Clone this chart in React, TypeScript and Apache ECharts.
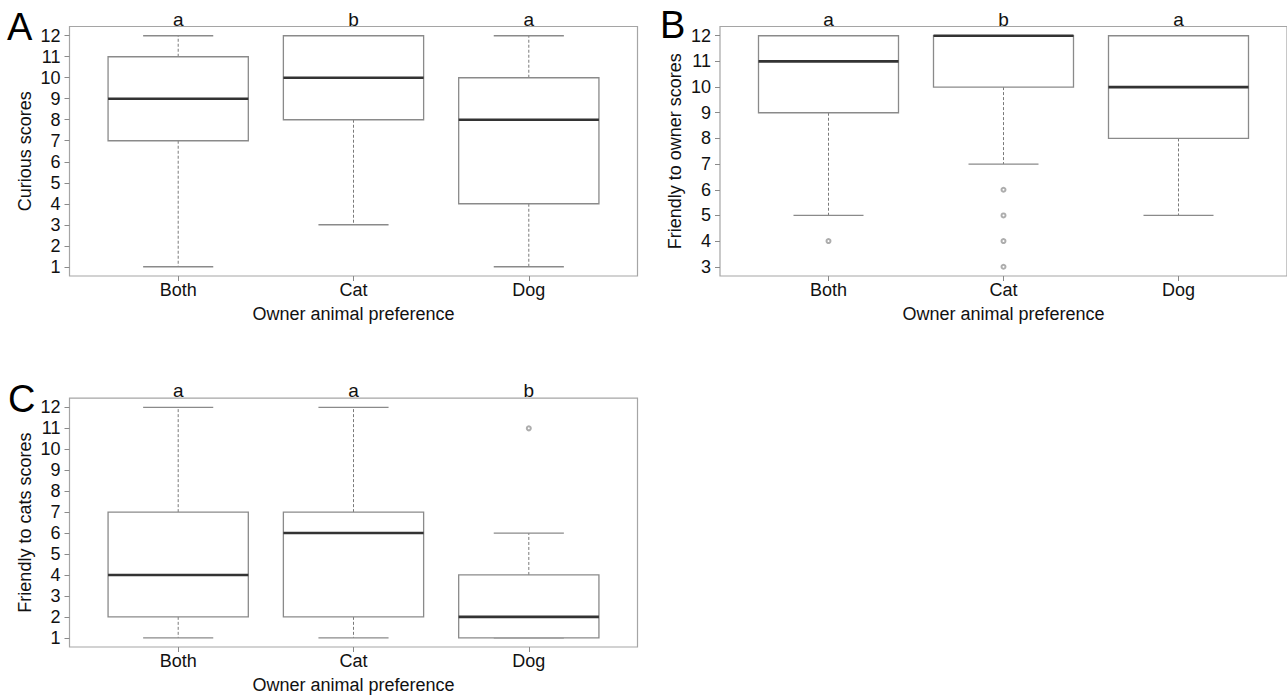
import React, { useEffect, useRef } from "react";
import * as echarts from "echarts";

const categories = ["Both", "Cat", "Dog"];

// [min whisker, Q1, median, Q3, max whisker]
const curiousStats = [
  [1, 7, 9, 11, 12],
  [3, 8, 10, 12, 12],
  [1, 4, 8, 10, 12],
];
const curiousOutliers: number[][] = [];
const curiousLetters = ["a", "b", "a"];

const ownerStats = [
  [5, 9, 11, 12, 12],
  [7, 10, 12, 12, 12],
  [5, 8, 10, 12, 12],
];
const ownerOutliers = [
  [1, 4],
  [2, 6],
  [2, 5],
  [2, 4],
  [2, 3],
];
const ownerLetters = ["a", "b", "a"];

const catsStats = [
  [1, 2, 4, 7, 12],
  [1, 2, 6, 7, 12],
  [1, 1, 2, 4, 6],
];
const catsOutliers = [[3, 11]];
const catsLetters = ["a", "a", "b"];

const curiousTicks = [1, 2, 3, 4, 5, 6, 7, 8, 9, 10, 11, 12];
const ownerTicks = [3, 4, 5, 6, 7, 8, 9, 10, 11, 12];
const catsTicks = [1, 2, 3, 4, 5, 6, 7, 8, 9, 10, 11, 12];

const FONT = "'Liberation Sans', Arial, sans-serif";
const TEXT = "#111";
const GRAY = "#8a8a8a";

type Panel = {
  stats: number[][];
  outliers: number[][];
  letters: string[];
  ticks: number[];
  yName: string;
  grid: { left: number; top: number; width: number; height: number };
};

const panels: Panel[] = [
  {
    stats: curiousStats,
    outliers: curiousOutliers,
    letters: curiousLetters,
    ticks: curiousTicks,
    yName: "Curious scores",
    grid: { left: 69.5, top: 26.5, width: 568, height: 249.5 },
  },
  {
    stats: ownerStats,
    outliers: ownerOutliers,
    letters: ownerLetters,
    ticks: ownerTicks,
    yName: "Friendly to owner scores",
    grid: { left: 720, top: 26.5, width: 568, height: 249.5 },
  },
  {
    stats: catsStats,
    outliers: catsOutliers,
    letters: catsLetters,
    ticks: catsTicks,
    yName: "Friendly to cats scores",
    grid: { left: 69.5, top: 398.2, width: 568, height: 249.4 },
  },
];

function yRange(p: Panel) {
  const vals: number[] = [];
  p.stats.forEach((s) => vals.push(...s));
  p.outliers.forEach((o) => vals.push(o[1]));
  const lo = Math.min(...vals);
  const hi = Math.max(...vals);
  const pad = (hi - lo) * 0.04;
  return [lo - pad, hi + pad];
}

export default function App() {
  const ref = useRef<HTMLDivElement>(null);

  useEffect(() => {
    if (!ref.current) return;
    const chart = echarts.init(ref.current, null, { renderer: "svg" });

    const grids: any[] = [];
    const xAxes: any[] = [];
    const yAxes: any[] = [];
    const series: any[] = [];

    panels.forEach((p, i) => {
      const [ymin, ymax] = yRange(p);
      grids.push({
        ...p.grid,
        show: true,
        borderColor: "#a5a5a5",
        borderWidth: 1.2,
        backgroundColor: "transparent",
        containLabel: false,
      });
      xAxes.push({
        type: "value",
        gridIndex: i,
        min: 0.38,
        max: 3.62,
        axisLine: { show: false },
        splitLine: { show: false },
        axisTick: {
          show: true,
          length: 5,
          customValues: [1, 2, 3],
          lineStyle: { color: GRAY, width: 1 },
        },
        axisLabel: {
          customValues: [1, 2, 3],
          formatter: (v: number) => categories[Math.round(v) - 1] ?? "",
          fontSize: 18,
          color: TEXT,
          fontFamily: FONT,
          margin: 5,
        },
        name: "Owner animal preference",
        nameLocation: "middle",
        nameGap: 29,
        nameTextStyle: { fontSize: 18, color: TEXT, fontFamily: FONT },
      });
      yAxes.push({
        type: "value",
        gridIndex: i,
        min: ymin,
        max: ymax,
        axisLine: { show: false },
        splitLine: { show: false },
        axisTick: {
          show: true,
          length: 5,
          customValues: p.ticks,
          lineStyle: { color: GRAY, width: 1 },
        },
        axisLabel: {
          customValues: p.ticks,
          fontSize: 18,
          color: TEXT,
          fontFamily: FONT,
          margin: 9,
        },
        name: p.yName,
        nameLocation: "middle",
        nameRotate: 90,
        nameGap: 36,
        nameTextStyle: { fontSize: 18, color: TEXT, fontFamily: FONT },
      });

      const letters = p.letters;
      series.push({
        type: "custom",
        xAxisIndex: i,
        yAxisIndex: i,
        clip: false,
        data: p.stats.map((s, k) => [k + 1, ...s]),
        renderItem: (params: any, api: any) => {
          const x = api.value(0);
          const lo = api.value(1);
          const q1 = api.value(2);
          const med = api.value(3);
          const q3 = api.value(4);
          const hi = api.value(5);
          const bw = api.size([0.8, 0])[0];
          const cx = api.coord([x, med])[0];
          const yLo = api.coord([x, lo])[1];
          const yQ1 = api.coord([x, q1])[1];
          const yMed = api.coord([x, med])[1];
          const yQ3 = api.coord([x, q3])[1];
          const yHi = api.coord([x, hi])[1];
          const yTop = api.coord([x, ymax])[1];
          const dash = { stroke: "#7a7a7a", lineWidth: 1, lineDash: [3, 2] };
          const solid = { stroke: GRAY, lineWidth: 1.3 };
          const children: any[] = [];
          if (hi > q3)
            children.push({ type: "line", shape: { x1: cx, y1: yQ3, x2: cx, y2: yHi }, style: dash });
          if (lo < q1)
            children.push({ type: "line", shape: { x1: cx, y1: yQ1, x2: cx, y2: yLo }, style: dash });
          children.push({
            type: "line",
            shape: { x1: cx - bw / 4, y1: yHi, x2: cx + bw / 4, y2: yHi },
            style: solid,
          });
          children.push({
            type: "line",
            shape: { x1: cx - bw / 4, y1: yLo, x2: cx + bw / 4, y2: yLo },
            style: solid,
          });
          children.push({
            type: "rect",
            shape: { x: cx - bw / 2, y: yQ3, width: bw, height: yQ1 - yQ3 },
            style: { fill: "#fff", stroke: GRAY, lineWidth: 1.3 },
          });
          children.push({
            type: "line",
            shape: { x1: cx - bw / 2, y1: yMed, x2: cx + bw / 2, y2: yMed },
            style: { stroke: "#333", lineWidth: 2.6 },
          });
          children.push({
            type: "text",
            x: cx,
            y: yTop + 2,
            style: {
              text: letters[params.dataIndex],
              textAlign: "center",
              textVerticalAlign: "bottom",
              fontSize: 19,
              fill: TEXT,
              fontFamily: FONT,
            },
          });
          return { type: "group", children };
        },
      });
      if (p.outliers.length) {
        series.push({
          type: "scatter",
          xAxisIndex: i,
          yAxisIndex: i,
          symbol: "emptyCircle",
          symbolSize: 4,
          itemStyle: { color: "#999", borderWidth: 1 },
          data: p.outliers,
        });
      }
    });

    chart.setOption({
      animation: false,
      backgroundColor: "#fff",
      grid: grids,
      xAxis: xAxes,
      yAxis: yAxes,
      series,
      graphic: [
        {
          type: "text",
          left: 7,
          top: 8,
          style: { text: "A", fontSize: 38, fill: "#000", fontFamily: FONT },
        },
        {
          type: "text",
          left: 660,
          top: 6,
          style: { text: "B", fontSize: 38, fill: "#000", fontFamily: FONT },
        },
        {
          type: "text",
          left: 8,
          top: 380,
          style: { text: "C", fontSize: 38, fill: "#000", fontFamily: FONT },
        },
      ],
    });

    return () => chart.dispose();
  }, []);

  return (
    <div
      ref={ref}
      style={{ position: "absolute", left: 0, top: 0, width: 1287, height: 695 }}
    />
  );
}
